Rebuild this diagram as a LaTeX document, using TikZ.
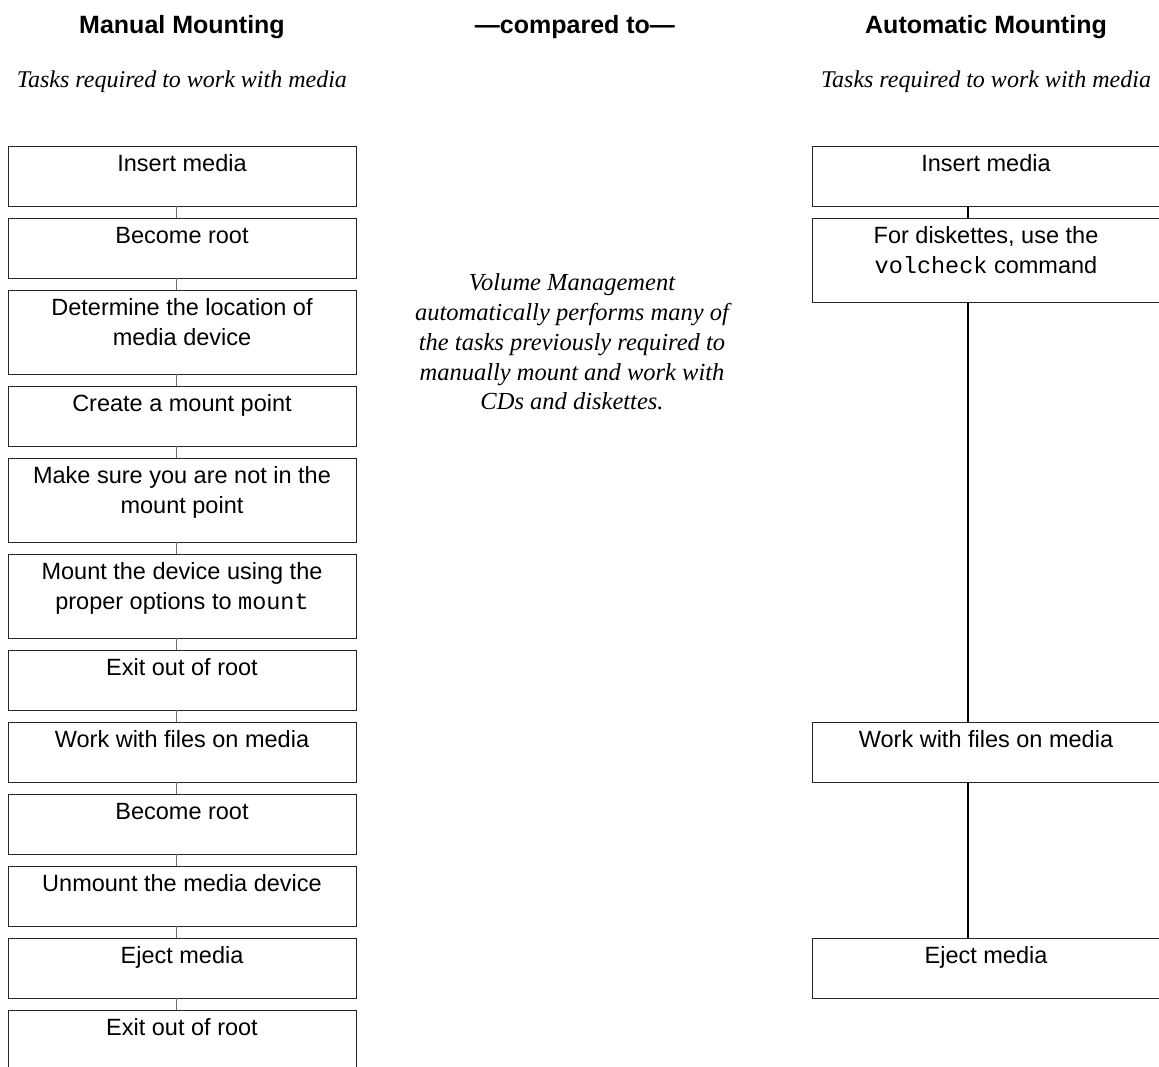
\documentclass[tikz,border=0pt]{standalone}
\usepackage{fontspec}
\setmainfont{Liberation Serif}
\setsansfont{Liberation Sans}
\setmonofont{Liberation Mono}
\newcommand\bxtext[2]{\parbox[c][#1][t]{348pt}{\centering\rule{0pt}{25.5pt}#2}}
\begin{document}
\begin{tikzpicture}[x=1pt,y=-1pt,
  stepbox/.style={draw=black!85, line width=0.8pt, inner sep=0pt,
    font=\sffamily\fontsize{23.5}{30}\selectfont},
  thinlink/.style={draw=black!55, line width=1pt},
  thicklink/.style={draw=black, line width=2.2pt},
  header/.style={font=\sffamily\bfseries\fontsize{25}{30}\selectfont, inner sep=0pt},
  subheader/.style={font=\itshape\fontsize{24}{28}\selectfont, inner sep=0pt},
  para/.style={font=\itshape\fontsize{24.5}{29.7}\selectfont, inner sep=0pt, align=center}
]
\useasboundingbox (0,0) rectangle (1159,1066);
\clip (0,0) rectangle (1159,1066);

% headers
\node[header] (h1) at (182,27) {Manual Mounting};
\node[header] (h2) at (575,27) {---compared to---};
\node[header] (h3) at (986,27) {Automatic Mounting};
\node[subheader] (s1) at (182,82) {Tasks required to work with media};
\node[subheader] (s2) at (986,82) {Tasks required to work with media};

\node[para] (p) at (572,342) {Volume Management\\automatically performs many of\\the tasks previously required to\\manually mount and work with\\CDs and diskettes.};

% left column
\node[stepbox] (L1) at (182,176) {\bxtext{60pt}{Insert media}};
\node[stepbox] (L2) at (182,248) {\bxtext{60pt}{Become root}};
\node[stepbox] (L3) at (182,332) {\bxtext{84pt}{Determine the location of\\media device}};
\node[stepbox] (L4) at (182,416) {\bxtext{60pt}{Create a mount point}};
\node[stepbox] (L5) at (182,500) {\bxtext{84pt}{Make sure you are not in the\\mount point}};
\node[stepbox] (L6) at (182,596) {\bxtext{84pt}{Mount the device using the\\proper options to \texttt{mount}}};
\node[stepbox] (L7) at (182,680) {\bxtext{60pt}{Exit out of root}};
\node[stepbox] (L8) at (182,752) {\bxtext{60pt}{Work with files on media}};
\node[stepbox] (L9) at (182,824) {\bxtext{60pt}{Become root}};
\node[stepbox] (L10) at (182,896) {\bxtext{60pt}{Unmount the media device}};
\node[stepbox] (L11) at (182,968) {\bxtext{60pt}{Eject media}};
\node[stepbox] (L12) at (182,1040) {\bxtext{60pt}{Exit out of root}};

\foreach \a/\b in {L1/L2,L2/L3,L3/L4,L4/L5,L5/L6,L6/L7,L7/L8,L8/L9,L9/L10,L10/L11,L11/L12}
  \draw[thinlink] ([xshift=-6pt]\a.south) -- ([xshift=-6pt]\b.north);

% right column
\node[stepbox] (R1) at (986,176) {\bxtext{60pt}{Insert media}};
\node[stepbox] (R2) at (986,260) {\bxtext{84pt}{For diskettes, use the\\\texttt{volcheck} command}};
\node[stepbox] (R3) at (986,752) {\bxtext{60pt}{Work with files on media}};
\node[stepbox] (R4) at (986,968) {\bxtext{60pt}{Eject media}};

\foreach \a/\b in {R1/R2,R2/R3,R3/R4}
  \draw[thicklink] ([xshift=-18pt]\a.south) -- ([xshift=-18pt]\b.north);
\end{tikzpicture}
\end{document}
